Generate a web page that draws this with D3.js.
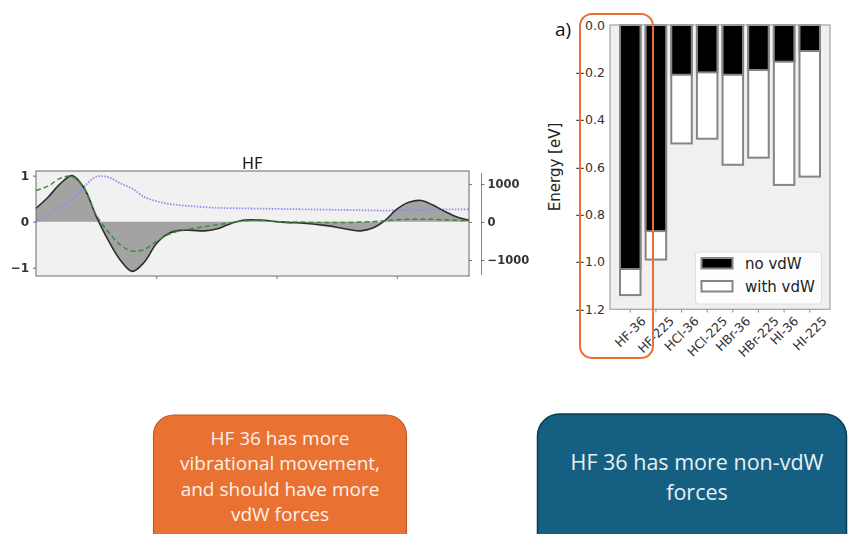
<!DOCTYPE html>
<html><head><meta charset="utf-8">
<script src="https://cdn.jsdelivr.net/npm/d3@7"></script>
<style>
html,body{margin:0;padding:0;background:#fff;}
svg{display:block;}
.dv{font-family:'DejaVu Sans',sans-serif;}
.note{font-family:'Open Sans',sans-serif;}
</style>
</head><body>
<svg id="chart" width="849" height="534"></svg>
<script>
// ---- HF trace panel ----
const hfTime = [0,10,20,30,40,50,60,70,80,90,100,110,120,130,140,150,160,170,180,190,200,210,220,230,240,250,260,270,280,290,300,310,320,330,340,350,360];
const hfSolid = [0.29,0.53,0.82,1.0,0.73,0.12,-0.40,-0.83,-1.08,-0.88,-0.48,-0.26,-0.19,-0.19,-0.20,-0.16,-0.06,0.02,0.04,0.03,0.0,-0.02,-0.03,-0.05,-0.08,-0.12,-0.17,-0.20,-0.14,0.02,0.27,0.42,0.46,0.36,0.22,0.10,0.03];
const hfDashed = [0.68,0.77,0.94,0.98,0.72,0.15,-0.22,-0.50,-0.64,-0.60,-0.43,-0.28,-0.19,-0.15,-0.11,-0.07,-0.03,0.01,0.03,0.02,0.0,-0.01,-0.01,-0.02,-0.02,-0.02,-0.02,-0.01,0.0,0.02,0.04,0.05,0.05,0.05,0.04,0.03,0.02];
const hfDotted = [0,180,380,600,930,1190,1180,1020,880,660,550,480,440,415,390,375,365,360,355,350,345,340,335,330,325,320,315,310,305,300,305,315,320,325,330,330,330];
const hfTitle = "HF";
const hfLeftTicks = [-1, 0, 1];
const hfRightTicks = [-1000, 0, 1000];
const hfTimeTicks = [100, 200, 300];

// ---- Energy bar panel ----
const systems = ["HF-36","HF-225","HCl-36","HCl-225","HBr-36","HBr-225","HI-36","HI-225"];
const energyNoVdw = [-1.03,-0.87,-0.21,-0.20,-0.21,-0.19,-0.155,-0.11];
const energyWithVdw = [-1.14,-0.99,-0.50,-0.48,-0.59,-0.56,-0.675,-0.64];
const energyTicks = [0,-0.2,-0.4,-0.6,-0.8,-1.0,-1.2];
const legendLabels = ["no vdW","with vdW"];
const panelLabel = "a)";
const energyAxisTitle = "Energy [eV]";

// ---- Notes ----
const noteOrange = ["HF 36 has more","vibrational movement,","and should have more","vdW forces"];
const noteBlue = ["HF 36 has more non-vdW","forces"];

const svg = d3.select("#chart");
const signed1 = d => (d < 0 ? "\u2212" : "") + Math.abs(d).toFixed(1);

// ================= HF trace panel =================
const defs = svg.append("defs");
defs.append("filter").attr("id","soft").append("feGaussianBlur").attr("stdDeviation",0.45);

const hf = svg.append("g").attr("filter","url(#soft)");
const hx = d3.scaleLinear().domain([0,360]).range([36,469]);
const hy = d3.scaleLinear().domain([-1.18,1.1]).range([276,171]);
const hy2 = d3.scaleLinear().domain([-1421,1342]).range([276,171]);

hf.append("rect").attr("x",36).attr("y",171).attr("width",433).attr("height",105)
  .attr("fill","#f1f1f1");

const pts = hfTime.map((t,i)=>({t, s:hfSolid[i], d:hfDashed[i], b:hfDotted[i]}));
const curve = d3.curveCatmullRom.alpha(0.5);

hf.append("path").datum(pts)
  .attr("d", d3.area().x(p=>hx(p.t)).y0(hy(0)).y1(p=>hy(p.s)).curve(curve))
  .attr("fill","#a3a3a3");

hf.append("path").datum(pts)
  .attr("d", d3.line().x(p=>hx(p.t)).y(p=>hy2(p.b)).curve(curve))
  .attr("fill","none").attr("stroke","#8f8cf0").attr("stroke-width",1.8)
  .attr("stroke-dasharray","1.5,1.5");

hf.append("path").datum(pts)
  .attr("d", d3.line().x(p=>hx(p.t)).y(p=>hy(p.s)).curve(curve))
  .attr("fill","none").attr("stroke","#2e2e2e").attr("stroke-width",1.6);

hf.append("path").datum(pts)
  .attr("d", d3.line().x(p=>hx(p.t)).y(p=>hy(p.d)).curve(curve))
  .attr("fill","none").attr("stroke","#3d8a3d").attr("stroke-width",1.5)
  .attr("stroke-dasharray","5,3");

hf.append("rect").attr("x",36).attr("y",171).attr("width",433).attr("height",105)
  .attr("fill","none").attr("stroke","#6a6a6a").attr("stroke-width",1);

const hl = hf.append("g").call(d3.axisLeft(hy).tickValues(hfLeftTicks).tickSize(3).tickPadding(4)
  .tickFormat(d=>d3.format("d")(d))).attr("transform","translate(36,0)");
hl.attr("font-family",null);
hl.select(".domain").remove();
hl.selectAll("line").attr("stroke","#666");
hl.selectAll("text").attr("class","dv").attr("font-size",12).attr("font-weight","bold").attr("fill","#333");

const hb = hf.append("g").call(d3.axisBottom(hx).tickValues(hfTimeTicks).tickSize(3).tickFormat(""))
  .attr("transform","translate(0,276)");
hb.select(".domain").remove();
hb.selectAll("line").attr("stroke","#777");

const hrIn = hf.append("g").call(d3.axisRight(hy2).tickValues(hfRightTicks).tickSize(3).tickFormat(""))
  .attr("transform","translate(469,0)");
hrIn.select(".domain").remove();
hrIn.selectAll("line").attr("stroke","#777");

const hr = hf.append("g").call(d3.axisRight(hy2).tickValues(hfRightTicks).tickSize(3).tickPadding(3)
  .tickFormat(d=>d3.format("d")(d))).attr("transform","translate(481.5,0)");
hr.attr("font-family",null);
hr.select(".domain").attr("stroke","#888").attr("d","M0,173V275");
hr.selectAll("line").attr("stroke","#777");
hr.selectAll("text").attr("class","dv").attr("font-size",11.5).attr("font-weight","bold").attr("fill","#333");

hf.append("text").attr("class","dv").attr("x",252.5).attr("y",168.5).attr("text-anchor","middle")
  .attr("font-size",16).attr("fill","#222").text(hfTitle);

// ================= Energy bar panel =================
const bx = d3.scaleBand().domain(systems).range([610,830]).paddingInner(0.2).paddingOuter(0.39);
const by = d3.scaleLinear().domain([-1.2,0]).range([309.3,25]);

svg.append("rect").attr("x",610).attr("y",25).attr("width",220).attr("height",284.3)
  .attr("fill","#f0f0f0");

const bars = svg.append("g");
systems.forEach((s,i)=>{
  bars.append("rect").attr("x",bx(s)).attr("y",by(0)).attr("width",bx.bandwidth())
    .attr("height",by(energyWithVdw[i])-by(0))
    .attr("fill","#fff").attr("stroke","#858585").attr("stroke-width",2);
  bars.append("rect").attr("x",bx(s)).attr("y",by(0)).attr("width",bx.bandwidth())
    .attr("height",by(energyNoVdw[i])-by(0))
    .attr("fill","#000").attr("stroke","#858585").attr("stroke-width",2);
});

svg.append("rect").attr("x",610).attr("y",25).attr("width",220).attr("height",284.3)
  .attr("fill","none").attr("stroke","#a8a8a8").attr("stroke-width",1.3);

const ya = svg.append("g").attr("transform","translate(610,0)")
  .call(d3.axisLeft(by).tickValues(energyTicks).tickSize(0).tickPadding(5).tickFormat(signed1));
ya.attr("font-family",null);
ya.select(".domain").remove();
ya.selectAll("text").attr("class","dv").attr("font-size",12.5).attr("fill","#333");

const xa = svg.append("g");
systems.forEach(s=>{
  const cx = bx(s)+bx.bandwidth()/2;
  xa.append("line").attr("x1",cx).attr("x2",cx).attr("y1",309.3).attr("y2",312.5).attr("stroke","#888");
  const t = xa.append("text").attr("class","dv").attr("font-size",12.5).attr("fill","#333")
    .attr("text-anchor","middle").attr("dominant-baseline","central").text(s);
  const L = t.node().getComputedTextLength();
  const cy = 315.5 + (L + 0.73*12.5)*0.7071/2;
  t.attr("transform",`translate(${cx},${cy}) rotate(-45)`);
});

svg.append("text").attr("class","dv").attr("transform","translate(560,167) rotate(-90)").attr("text-anchor","middle")
  .attr("font-size",15).attr("fill","#222").text(energyAxisTitle);

// legend
const lg = svg.append("g");
lg.append("rect").attr("x",695.5).attr("y",252).attr("width",126).attr("height",52).attr("rx",3)
  .attr("fill","#fff").attr("fill-opacity",0.85).attr("stroke","#dcdcdc");
legendLabels.forEach((lab,i)=>{
  const yy = 258 + i*23;
  lg.append("rect").attr("x",701.5).attr("y",yy).attr("width",31).attr("height",10.5)
    .attr("fill", i===0 ? "#000" : "#fff").attr("stroke","#858585").attr("stroke-width",2);
  lg.append("text").attr("class","dv").attr("x",745).attr("y",yy+10.5).attr("font-size",15)
    .attr("fill","#222").text(lab);
});

svg.append("text").attr("class","note").attr("x",555).attr("y",36)
  .attr("font-size",19).attr("fill","#111").text(panelLabel);

// highlight around HF-36
svg.append("rect").attr("x",580).attr("y",14).attr("width",73).attr("height",344).attr("rx",12)
  .attr("fill","none").attr("stroke","#e97132").attr("stroke-width",2);

// ================= Notes =================
svg.append("rect").attr("x",153.5).attr("y",415).attr("width",253).attr("height",150).attr("rx",20)
  .attr("fill","#e97132").attr("stroke","#c25a22").attr("stroke-width",1.2);
noteOrange.forEach((ln,i)=>{
  svg.append("text").attr("class","note").attr("x",280).attr("y",445+i*25.3).attr("text-anchor","middle")
    .attr("font-size",19).attr("fill","#fdf1ea").text(ln);
});

svg.append("rect").attr("x",537.5).attr("y",414).attr("width",309).attr("height",150).attr("rx",22)
  .attr("fill","#156082").attr("stroke","#0c3a50").attr("stroke-width",1.5);
noteBlue.forEach((ln,i)=>{
  svg.append("text").attr("class","note").attr("x",697).attr("y",470+i*29.5).attr("text-anchor","middle")
    .attr("font-size",21.5).attr("fill","#e9f0f4").text(ln);
});
</script>
</body></html>
